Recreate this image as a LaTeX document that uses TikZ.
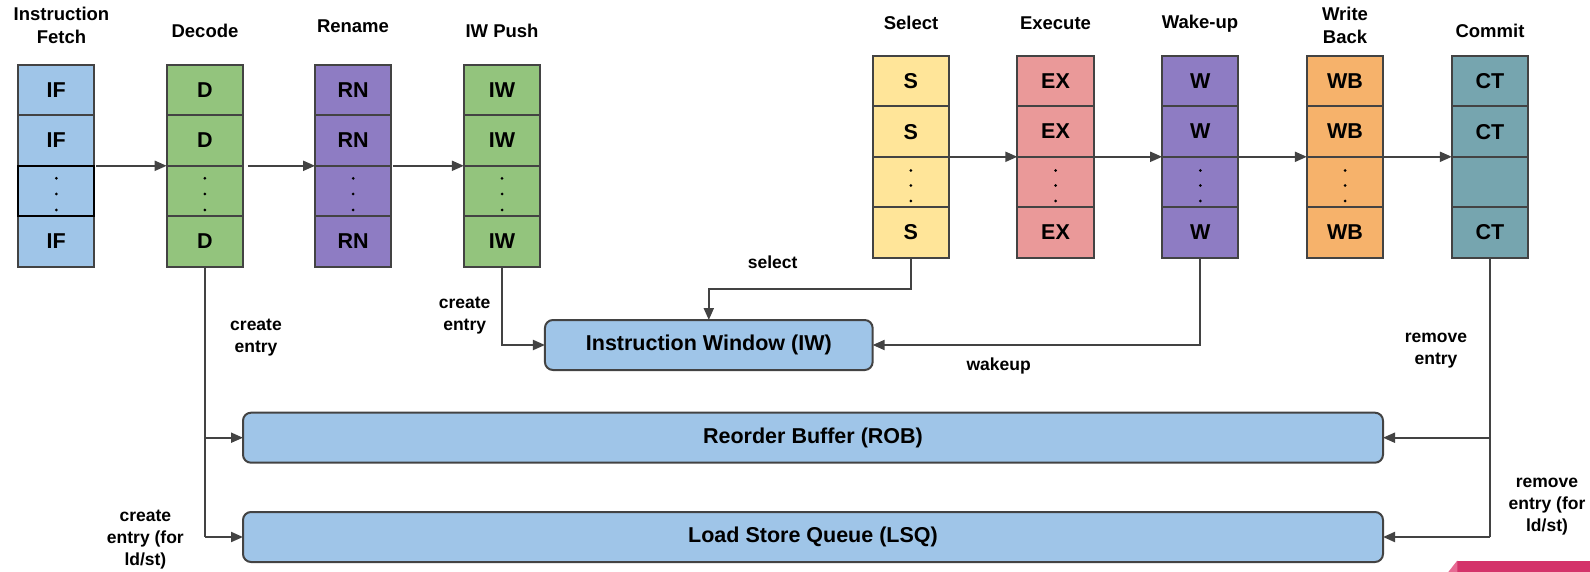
\documentclass[tikz,border=0pt]{standalone}
\usepackage{fontspec}
\setmainfont{Liberation Sans}
\usetikzlibrary{arrows.meta,calc}
\definecolor{cblue}{HTML}{9FC5E8}
\definecolor{cgreen}{HTML}{93C47D}
\definecolor{cpurp}{HTML}{8E7CC3}
\definecolor{cyell}{HTML}{FFE599}
\definecolor{cred}{HTML}{EA9999}
\definecolor{corange}{HTML}{F6B26B}
\definecolor{cteal}{HTML}{76A5AF}
\definecolor{bordc}{HTML}{434343}
\definecolor{pinkA}{HTML}{D4336A}
\definecolor{pinkB}{HTML}{E76A93}
\begin{document}
\begin{tikzpicture}[x=1pt,y=-1pt,
  cell/.style={draw=bordc, line width=2pt, minimum width=76.3pt, minimum height=50.4pt,
    inner sep=0pt, outer sep=0pt, font=\fontsize{21.5}{21.5}\selectfont\bfseries},
  bigbox/.style={draw=bordc, fill=cblue, line width=2pt, rounded corners=8pt, inner sep=0pt,
    outer sep=0pt, minimum height=50pt, font=\fontsize{21.5}{21.5}\selectfont\bfseries},
  title/.style={font=\fontsize{18.5}{22.7}\selectfont\bfseries, align=center, inner sep=0pt},
  lab/.style={font=\fontsize{17.5}{22}\selectfont\bfseries, align=center, inner sep=0pt},
  conn/.style={draw=bordc, line width=2pt},
  arr/.style={conn, -{Triangle[length=12pt,width=10pt]}}]
\useasboundingbox (0,0) rectangle (1590,572);

% left stage columns
\foreach \n/\x/\c/\t in {IF/56.3/cblue/IF, D/204.8/cgreen/D, RN/353.2/cpurp/RN, IW/502/cgreen/IW}{
  \node[cell, fill=\c] (\n1) at (\x,90.2) {\t};
  \node[cell, fill=\c] (\n2) at (\x,140.6) {\t};
  \node[cell, fill=\c] (\n3) at (\x,191) {};
  \node[cell, fill=\c] (\n4) at (\x,241.4) {\t};
  \foreach \dy in {-12.7,3,19} \fill (\n3.center) ++(0,\dy) circle (1.5pt);
}
\draw[black, line width=2pt] (IF3.south west) rectangle (IF3.north east);

% right stage columns
\foreach \n/\x/\c/\t in {S/910.8/cyell/S, EX/1055.5/cred/EX, W/1200.3/cpurp/W, WB/1345/corange/WB, CT/1490/cteal/CT}{
  \node[cell, fill=\c] (\n1) at (\x,81.2) {\t};
  \node[cell, fill=\c] (\n2) at (\x,131.6) {\t};
  \node[cell, fill=\c] (\n3) at (\x,182) {};
  \node[cell, fill=\c] (\n4) at (\x,232.4) {\t};
}
\foreach \n in {S,EX,W,WB}{
  \foreach \dy in {-11.5,3.5,19} \fill (\n3.center) ++(0,\dy) circle (1.5pt);
}

% titles
\node[title] (tIF) at (61.5,25.7) {Instruction\\Fetch};
\node[title] (tD) at (205,31) {Decode};
\node[title] (tRN) at (353,26.5) {Rename};
\node[title] (tIW) at (502,31) {IW Push};
\node[title] (tS) at (911,23.3) {Select};
\node[title] (tEX) at (1055.5,23.3) {Execute};
\node[title] (tW) at (1200,23.3) {Wake-up};
\node[title] (tWB) at (1345,25.3) {Write\\Back};
\node[title] (tCT) at (1490,31) {Commit};

% big boxes
\node[bigbox, minimum width=327.7pt] (IWB) at (708.8,345) {Instruction Window (IW)};
\node[bigbox, minimum width=1140pt] (ROB) at (813,437.7) {Reorder Buffer (ROB)};
\node[bigbox, minimum width=1140pt] (LSQ) at (813,537) {Load Store Queue (LSQ)};

% pipeline arrows
\draw[arr] ([xshift=2pt]IF2.south east) -- (D2.south west);
\draw[arr] ([xshift=5pt]D2.south east) -- (RN2.south west);
\draw[arr] ([xshift=1.5pt]RN2.south east) -- (IW2.south west);
\draw[arr] (S2.south east) -- (EX2.south west);
\draw[arr] (EX2.south east) -- (W2.south west);
\draw[arr] (W2.south east) -- (WB2.south west);
\draw[arr] (WB2.south east) -- (CT2.south west);

% connectors to the structures
\draw[conn] (D4.south) -- (D4.south |- LSQ.west);
\draw[arr] (D4.south |- ROB.west) -- (ROB.west);
\draw[arr] (D4.south |- LSQ.west) -- (LSQ.west);
\draw[arr] (IW4.south) |- (IWB.west);
\draw[arr] (S4.south) -- ++(0,31.3) -| (IWB.north);
\draw[arr] (W4.south) |- (IWB.east);
\draw[conn] (CT4.south) -- (CT4.south |- LSQ.east);
\draw[arr] (CT4.south |- ROB.east) -- (ROB.east);
\draw[arr] (CT4.south |- LSQ.east) -- (LSQ.east);

% labels
\node[lab] (lsel) at (772.7,262.3) {select};
\node[lab] (lce1) at (256,337.5) {create\\entry};
\node[lab] (lce2) at (464.7,315.2) {create\\entry};
\node[lab] (lwk) at (998.7,366) {wakeup};
\node[lab] (lre1) at (1436,350.5) {remove\\entry};
\node[lab] (lre2) at (1547,506.6) {remove\\entry (for\\ld/st)};
\node[lab] (lce3) at (145.4,539.7) {create\\entry (for\\ld/st)};

% corner decoration
\fill[pinkA] (1457.3,560.5) rectangle (1590,572);
\fill[pinkB] (1448.3,572) -- (1457.3,560.5) -- (1457.3,572) -- cycle;
\end{tikzpicture}
\end{document}
